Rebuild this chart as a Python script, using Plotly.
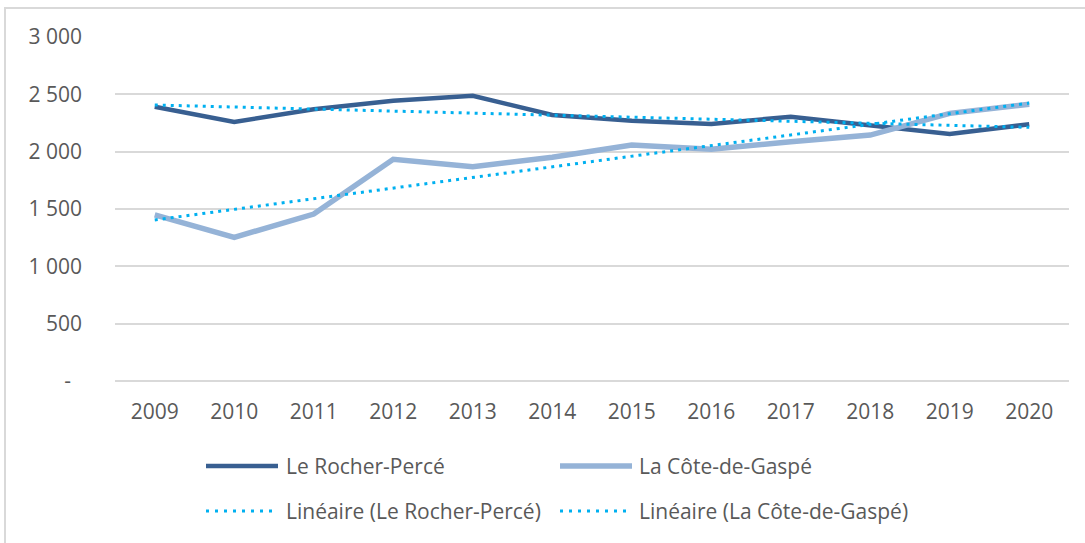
import numpy as np
import plotly.graph_objects as go

years = ["2009", "2010", "2011", "2012", "2013", "2014", "2015", "2016", "2017", "2018", "2019", "2020"]
rocher_perce = [2392, 2259, 2369, 2444, 2488, 2320, 2270, 2241, 2305, 2232, 2154, 2239]
cote_de_gaspe = [1448, 1253, 1456, 1933, 1869, 1951, 2058, 2021, 2087, 2145, 2334, 2413]
y_tickvals = [0, 500, 1000, 1500, 2000, 2500, 3000]
y_ticktext = ["-\u00a0\u00a0", "500", "1 000", "1 500", "2 000", "2 500", "3 000"]
legend_names = ["Le Rocher-Percé", "La Côte-de-Gaspé",
                "Linéaire (Le Rocher-Percé)", "Linéaire (La Côte-de-Gaspé)"]

DARK = "#385F91"
LIGHT = "#95B3D7"
TREND = "#00B0F0"
TEXT = "#595959"
GRID = "#D9D9D9"
BORDER = "#D9D9D9"
FONT = "Open Sans, Liberation Sans, sans-serif"
FS = 21

W, H = 1085, 543
ML, MR, MT, MB = 115, 16, 37, 162
PW, PH = W - ML - MR, H - MT - MB


def px_x(p):
    return (p - ML) / PW


def px_y(p):
    return (H - MB - p) / PH


def trend(values):
    idx = np.arange(len(values))
    slope, intercept = np.polyfit(idx, values, 1)
    return list(slope * idx + intercept)


fig = go.Figure()
fig.add_trace(go.Scatter(x=years, y=rocher_perce, mode="lines",
                         line=dict(color=DARK, width=4.5), name=legend_names[0], showlegend=False))
fig.add_trace(go.Scatter(x=years, y=cote_de_gaspe, mode="lines",
                         line=dict(color=LIGHT, width=5.5), name=legend_names[1], showlegend=False))
fig.add_trace(go.Scatter(x=years, y=trend(rocher_perce), mode="lines",
                         line=dict(color=TREND, width=3, dash="3px,5px"), name=legend_names[2], showlegend=False))
fig.add_trace(go.Scatter(x=years, y=trend(cote_de_gaspe), mode="lines",
                         line=dict(color=TREND, width=3, dash="3px,5px"), name=legend_names[3], showlegend=False))

shapes = []
annotations = []
legend_items = [
    (206, 278, 284, 466, dict(color=DARK, width=4.5)),
    (560, 632, 637, 466, dict(color=LIGHT, width=5.5)),
    (206, 278, 284, 511, dict(color=TREND, width=3, dash="3px,6px")),
    (560, 632, 637, 511, dict(color=TREND, width=3, dash="3px,6px")),
]
for name, (sx0, sx1, tx, yy, ln) in zip(legend_names, legend_items):
    shapes.append(dict(type="line", xref="paper", yref="paper",
                       x0=px_x(sx0), x1=px_x(sx1), y0=px_y(yy), y1=px_y(yy), line=ln))
    annotations.append(dict(xref="paper", yref="paper", x=px_x(tx), y=px_y(yy),
                            xanchor="left", yanchor="middle", showarrow=False,
                            text=name, font=dict(family=FONT, size=FS, color=TEXT)))

fig.update_layout(
    width=W, height=H,
    margin=dict(l=ML, r=MR, t=MT, b=MB, pad=0),
    paper_bgcolor="white", plot_bgcolor="white",
    font=dict(family=FONT, size=FS, color=TEXT),
    showlegend=False,
    shapes=shapes, annotations=annotations,
    xaxis=dict(type="category", range=[-0.5, len(years) - 0.5],
               showgrid=False, zeroline=False, showline=False,
               ticks="", ticklabelstandoff=16, tickfont=dict(size=FS, color=TEXT)),
    yaxis=dict(range=[0, 3000], tickvals=y_tickvals, ticktext=y_ticktext,
               showgrid=True, gridcolor=GRID, gridwidth=1.5,
               zeroline=True, zerolinecolor=GRID, zerolinewidth=1.5,
               showline=False, ticks="", ticklabelstandoff=32,
               tickfont=dict(size=FS, color=TEXT)),
)

# chart-area frame: top and left edges of the outer border
frame_js = (
    "document.body.style.margin='0';"
    "var f=document.createElement('div');"
    "f.style.cssText='position:absolute;left:4px;top:7px;width:1200px;height:700px;"
    "border-top:2px solid " + BORDER + ";border-left:2px solid " + BORDER + ";"
    "pointer-events:none;box-sizing:border-box;z-index:10';"
    "document.body.appendChild(f);"
    "document.body.style.overflow='hidden';"
)
fig.write_html("out.html", post_script=frame_js, config={"displayModeBar": False})
